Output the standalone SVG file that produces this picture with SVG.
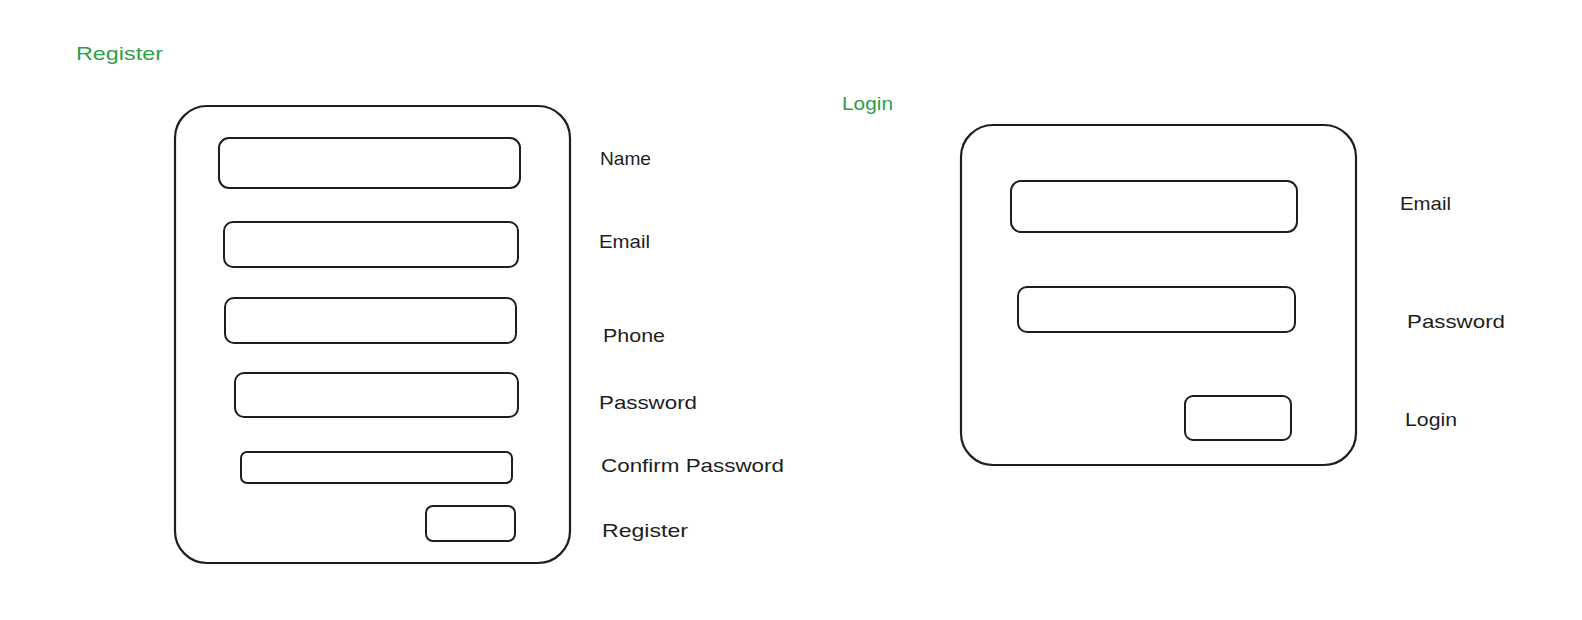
<svg xmlns="http://www.w3.org/2000/svg" width="1582" height="620" viewBox="0 0 1582 620">
<style>
.frame{fill:none;stroke:#1e1e1e;stroke-width:2.2;stroke-linejoin:round}
.field{fill:none;stroke:#1e1e1e;stroke-width:2;stroke-linejoin:round}
.lbl{font-family:"Liberation Sans",Arial,sans-serif;font-size:19px;fill:#1e1e1e}
.title{font-family:"Liberation Sans",Arial,sans-serif;font-size:19px;fill:#2f9e44}
</style>
<rect width="1582" height="620" fill="#ffffff"/>
<g id="register-title"><text class="title" x="76" y="60" textLength="87" lengthAdjust="spacingAndGlyphs">Register</text></g>
<g id="login-title"><text class="title" x="842" y="110" textLength="51" lengthAdjust="spacingAndGlyphs">Login</text></g>

<g id="register-form">
<rect class="frame" x="175" y="106" width="395" height="457" rx="32"/>
</g>
<g id="reg-name-field"><rect class="field" x="219" y="138" width="301" height="50" rx="10"/></g>
<g id="reg-email-field"><rect class="field" x="224" y="222" width="294" height="45" rx="9"/></g>
<g id="reg-phone-field"><rect class="field" x="225" y="298" width="291" height="45" rx="9"/></g>
<g id="reg-password-field"><rect class="field" x="235" y="373" width="283" height="44" rx="9"/></g>
<g id="reg-confirm-field"><rect class="field" x="241" y="452" width="271" height="31" rx="6"/></g>
<g id="reg-button"><rect class="field" x="426" y="506" width="89" height="35" rx="7"/></g>

<g id="reg-labels">
<text class="lbl" x="600" y="165" textLength="51" lengthAdjust="spacingAndGlyphs">Name</text>
<text class="lbl" x="599" y="248" textLength="51" lengthAdjust="spacingAndGlyphs">Email</text>
<text class="lbl" x="603" y="342" textLength="62" lengthAdjust="spacingAndGlyphs">Phone</text>
<text class="lbl" x="599" y="409" textLength="98" lengthAdjust="spacingAndGlyphs">Password</text>
<text class="lbl" x="601" y="472" textLength="183" lengthAdjust="spacingAndGlyphs">Confirm Password</text>
<text class="lbl" x="602" y="537" textLength="86" lengthAdjust="spacingAndGlyphs">Register</text>
</g>

<g id="login-form">
<rect class="frame" x="961" y="125" width="395" height="340" rx="32"/>
</g>
<g id="login-email-field"><rect class="field" x="1011" y="181" width="286" height="51" rx="10"/></g>
<g id="login-password-field"><rect class="field" x="1018" y="287" width="277" height="45" rx="9"/></g>
<g id="login-button"><rect class="field" x="1185" y="396" width="106" height="44" rx="8"/></g>

<g id="login-labels">
<text class="lbl" x="1400" y="210" textLength="51" lengthAdjust="spacingAndGlyphs">Email</text>
<text class="lbl" x="1407" y="328" textLength="98" lengthAdjust="spacingAndGlyphs">Password</text>
<text class="lbl" x="1405" y="426" textLength="52" lengthAdjust="spacingAndGlyphs">Login</text>
</g>

<g id="connectors"></g>
</svg>
